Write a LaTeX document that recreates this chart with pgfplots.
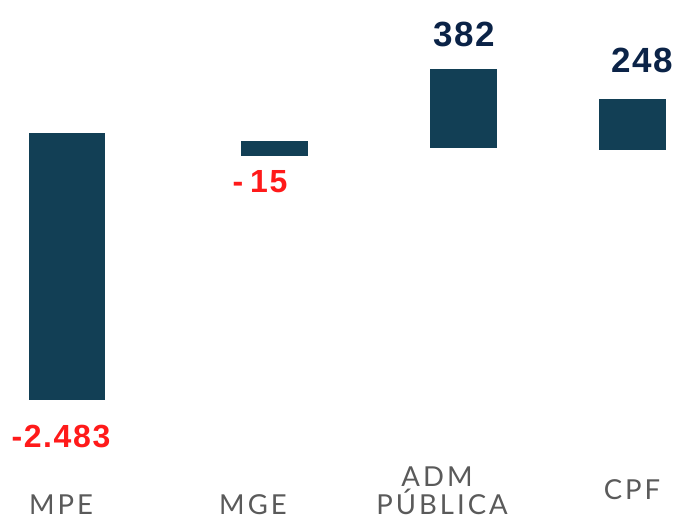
\documentclass[border=0pt]{standalone}
\usepackage{pgfplots}
\pgfplotsset{compat=1.18}
\usepackage{fontspec}
\setmainfont{Lato}
\newfontfamily\numfont{Liberation Sans}[LetterSpace=5]
\newfontfamily\catfont{Lato}[LetterSpace=11]
\definecolor{barblue}{HTML}{123F55}
\definecolor{navy}{HTML}{0B2347}
\definecolor{redv}{HTML}{FF1A1A}
\definecolor{graytxt}{HTML}{5A5A5A}
\begin{document}
\begin{tikzpicture}
\begin{axis}[scale only axis, width=676pt, height=518pt,
  xmin=0, xmax=676, ymin=0, ymax=518, hide axis, clip=false]
\path (rel axis cs:0,0) rectangle (rel axis cs:1,1);
% floating bars (corners in chart units)
\addplot[fill=barblue, draw=none] coordinates {(29,118) (105,118) (105,385) (29,385)} -- cycle;
\addplot[fill=barblue, draw=none] coordinates {(241,362) (308,362) (308,377) (241,377)} -- cycle;
\addplot[fill=barblue, draw=none] coordinates {(430,370) (497,370) (497,449) (430,449)} -- cycle;
\addplot[fill=barblue, draw=none] coordinates {(599,368) (666,368) (666,419) (599,419)} -- cycle;
% value labels
\addplot[draw=none, mark=none, nodes near coords, point meta=explicit symbolic,
  every node near coord/.style={anchor=base, inner sep=0pt, text=redv,
  font=\numfont\bfseries\fontsize{32}{36}\selectfont}]
  coordinates {(61,70) [-2.483] (260,325) [-\kern7pt 15]};
\addplot[draw=none, mark=none, nodes near coords, point meta=explicit symbolic,
  every node near coord/.style={anchor=base, inner sep=0pt, text=navy,
  font=\numfont\bfseries\fontsize{35}{38}\selectfont}]
  coordinates {(464,471) [382] (642,445) [248]};
% category labels
\addplot[draw=none, mark=none, nodes near coords, point meta=explicit symbolic,
  every node near coord/.style={anchor=base, inner sep=0pt, text=graytxt,
  font=\catfont\fontsize{27.5}{30}\selectfont}]
  coordinates {(61,3) [MPE] (253,3) [MGE] (437,31) [ADM] (442,3) [PÚBLICA] (632,18) [CPF]};
\end{axis}
\end{tikzpicture}
\end{document}
